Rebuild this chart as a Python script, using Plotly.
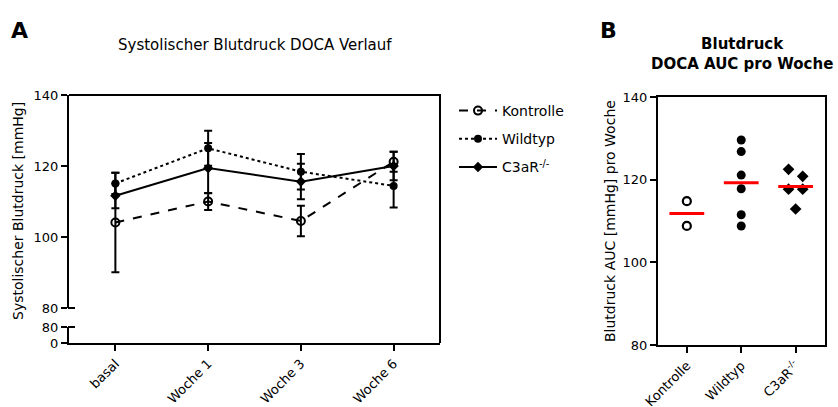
import plotly.graph_objects as go

W, H = 838, 407
def px(x): return x / W
def py(y): return 1 - y / H

FONT = "DejaVu Sans, sans-serif"

# ---- Panel A data ----
timepoints = ["basal", "Woche 1", "Woche 3", "Woche 6"]
kontrolle_mean = [104.1, 110.0, 104.5, 121.2]
kontrolle_err = [14.0, 2.4, 4.3, 2.8]
wildtyp_mean = [115.1, 125.0, 118.4, 114.4]
wildtyp_err = [3.0, 4.9, 5.0, 6.1]
c3ar_mean = [111.6, 119.4, 115.6, 120.0]
c3ar_err = [3.5, 7.1, 5.0, 4.0]

# ---- Panel B data ----
groups = ["Kontrolle", "Wildtyp", "C3aR<sup>-/-</sup>"]
auc_kontrolle = [114.8, 108.8]
auc_wildtyp = [129.6, 126.8, 121.1, 117.8, 111.5, 108.8]
auc_c3ar = [122.5, 120.8, 117.7, 117.7, 112.9]
c3ar_jitter = [-0.13, 0.13, -0.13, 0.13, 0.0]

fig = go.Figure()

def err(a):
    return dict(type="data", array=a, visible=True, color="black", thickness=2, width=4)

fig.add_trace(go.Scatter(
    x=timepoints, y=kontrolle_mean, name="Kontrolle", legendgroup="k",
    mode="lines+markers", xaxis="x", yaxis="y",
    line=dict(color="black", width=2, dash="dash"),
    marker=dict(symbol="circle-open", size=8, color="black", line=dict(width=2, color="black")),
    error_y=err(kontrolle_err)))
fig.add_trace(go.Scatter(
    x=timepoints, y=wildtyp_mean, name="Wildtyp", legendgroup="w",
    mode="lines+markers", xaxis="x", yaxis="y",
    line=dict(color="black", width=2, dash="dot"),
    marker=dict(symbol="circle", size=8, color="black"),
    error_y=err(wildtyp_err)))
fig.add_trace(go.Scatter(
    x=timepoints, y=c3ar_mean, name="C3aR<sup>-/-</sup>", legendgroup="c",
    mode="lines+markers", xaxis="x", yaxis="y",
    line=dict(color="black", width=2),
    marker=dict(symbol="diamond", size=8, color="black"),
    error_y=err(c3ar_err)))

# invisible helper trace so the lower (broken) axis segment is created
fig.add_trace(go.Scatter(
    x=timepoints, y=kontrolle_mean, mode="markers", showlegend=False, hoverinfo="skip",
    xaxis="x", yaxis="y2", marker=dict(opacity=0), cliponaxis=True))

# Panel B scatter
fig.add_trace(go.Scatter(
    x=[0] * len(auc_kontrolle), y=auc_kontrolle, mode="markers", showlegend=False,
    xaxis="x2", yaxis="y3",
    marker=dict(symbol="circle-open", size=8, color="black", line=dict(width=2.2, color="black"))))
fig.add_trace(go.Scatter(
    x=[1] * len(auc_wildtyp), y=auc_wildtyp, mode="markers", showlegend=False,
    xaxis="x2", yaxis="y3",
    marker=dict(symbol="circle", size=9, color="black")))
fig.add_trace(go.Scatter(
    x=[2 + j for j in c3ar_jitter], y=auc_c3ar, mode="markers", showlegend=False,
    xaxis="x2", yaxis="y3",
    marker=dict(symbol="diamond", size=9, color="black")))

# mean lines
for i, vals in enumerate([auc_kontrolle, auc_wildtyp, auc_c3ar]):
    m = sum(vals) / len(vals)
    fig.add_trace(go.Scatter(
        x=[i - 0.32, i + 0.32], y=[m, m], mode="lines", showlegend=False,
        xaxis="x2", yaxis="y3", line=dict(color="#ff0000", width=3)))

axis_common = dict(showline=True, linecolor="black", linewidth=2, ticks="outside",
                   ticklen=6, tickwidth=2, tickcolor="black", showgrid=False,
                   zeroline=False, automargin=False,
                   tickfont=dict(family=FONT, size=13, color="black"))

fig.update_layout(
    width=W, height=H, margin=dict(l=0, r=0, t=0, b=0, autoexpand=False),
    paper_bgcolor="white", plot_bgcolor="white",
    font=dict(family=FONT, size=14, color="black"),
    xaxis=dict(domain=[px(69), px(440)], anchor="y2", type="category",
               range=[-0.5, 3.5], tickangle=-45, **axis_common),
    yaxis=dict(domain=[py(308), py(95)], anchor="x", range=[80, 140],
               tickvals=[80, 100, 120, 140], **axis_common),
    yaxis2=dict(domain=[py(343), py(327)], anchor="x", range=[0, 80],
                tickvals=[0, 80], **axis_common),
    xaxis2=dict(domain=[px(658), px(825)], anchor="y3", range=[-0.53, 2.54],
                tickvals=[0, 1, 2], ticktext=groups, tickangle=-45, mirror=True,
                **axis_common),
    yaxis3=dict(domain=[py(345), py(97)], anchor="x2", range=[80, 140],
                tickvals=[80, 100, 120, 140], mirror=True, **axis_common),
    legend=dict(x=px(454), y=py(95), xanchor="left", yanchor="top",
                tracegroupgap=7, font=dict(family=FONT, size=14, color="black"),
                bgcolor="rgba(0,0,0,0)", itemwidth=38),
    showlegend=True,
)

shapes = [
    dict(type="line", xref="paper", yref="paper", x0=px(69), x1=px(441), y0=py(95), y1=py(95),
         line=dict(color="black", width=2)),
    dict(type="line", xref="paper", yref="paper", x0=px(440), x1=px(440), y0=py(95), y1=py(343),
         line=dict(color="black", width=2)),
    dict(type="line", xref="paper", yref="paper", x0=px(68), x1=px(75), y0=py(308), y1=py(308),
         line=dict(color="black", width=2)),
    dict(type="line", xref="paper", yref="paper", x0=px(68), x1=px(75), y0=py(327), y1=py(327),
         line=dict(color="black", width=2)),
]
fig.update_layout(shapes=shapes)

annotations = [
    dict(text="<b>A</b>", x=px(19), y=py(30), xref="paper", yref="paper", showarrow=False,
         font=dict(family=FONT, size=22, color="black"), xanchor="center", yanchor="middle"),
    dict(text="<b>B</b>", x=px(608), y=py(30), xref="paper", yref="paper", showarrow=False,
         font=dict(family=FONT, size=22, color="black"), xanchor="center", yanchor="middle"),
    dict(text="Systolischer Blutdruck DOCA Verlauf", x=px(255), y=py(45), xref="paper", yref="paper",
         showarrow=False, font=dict(family=FONT, size=15, color="black"),
         xanchor="center", yanchor="middle"),
    dict(text="<b>Blutdruck</b><br><b>DOCA AUC pro Woche</b>", x=px(742), y=py(54), xref="paper",
         yref="paper", showarrow=False, font=dict(family=FONT, size=15, color="black"),
         xanchor="center", yanchor="middle"),
    dict(text="Systolischer Blutdruck [mmHg]", x=px(18), y=py(211), xref="paper", yref="paper",
         showarrow=False, textangle=-90, font=dict(family=FONT, size=14, color="black"),
         xanchor="center", yanchor="middle"),
    dict(text="Blutdruck AUC [mmHg] pro Woche", x=px(610), y=py(221), xref="paper", yref="paper",
         showarrow=False, textangle=-90, font=dict(family=FONT, size=14, color="black"),
         xanchor="center", yanchor="middle"),
]
fig.update_layout(annotations=annotations)

fig.write_html("out.html")
